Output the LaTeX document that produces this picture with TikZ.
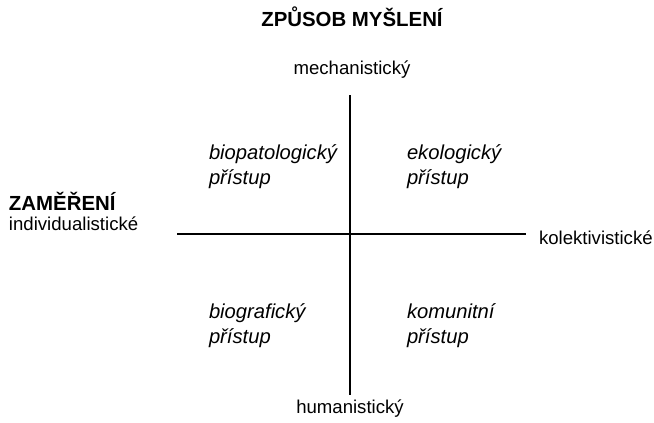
\documentclass[tikz,border=0pt]{standalone}
\usepackage{fontspec}
\setmainfont{Liberation Sans}
\begin{document}
\begin{tikzpicture}[x=1pt,y=-1pt,
  every node/.style={inner sep=0pt,outer sep=0pt,text=black},
  lbl/.style={font=\fontsize{18.6}{22}\selectfont},
  ttl/.style={font=\fontsize{20.4}{24}\selectfont\bfseries},
  quad/.style={font=\fontsize{20.2}{24.5}\selectfont\itshape,align=left},
  axis/.style={draw=black,line width=1.3pt}]
\useasboundingbox (0,0) rectangle (654,423);
% axes
\coordinate (top) at (350,95);
\coordinate (bot) at (350,395);
\coordinate (lft) at (177,234);
\coordinate (rgt) at (526,234);
\draw[axis] (top) -- (bot);
\draw[axis] (lft) -- (rgt);
% titles and labels
\node[ttl,anchor=base] (title) at (352,27) {ZPŮSOB MYŠLENÍ};
\node[lbl,anchor=base] (mech) at (352,74) {mechanistický};
\node[lbl,anchor=base] (hum) at (350,413) {humanistický};
\node[ttl,anchor=base west] (zam) at (9,210) {ZAMĚŘENÍ};
\node[lbl,anchor=base west] (ind) at (9,230) {individualistické};
\node[lbl,anchor=base west] (kol) at (539,244) {kolektivistické};
% quadrants
\node[quad,anchor=base west] (q1a) at (209,159.5) {biopatologický};
\node[quad,anchor=base west] (q1b) at (209,184) {přístup};
\node[quad,anchor=base west] (q2a) at (407,159.5) {ekologický};
\node[quad,anchor=base west] (q2b) at (407,184) {přístup};
\node[quad,anchor=base west] (q3a) at (209,318.5) {biografický};
\node[quad,anchor=base west] (q3b) at (209,343.5) {přístup};
\node[quad,anchor=base west] (q4a) at (407,318.5) {komunitní};
\node[quad,anchor=base west] (q4b) at (407,343.5) {přístup};
\end{tikzpicture}
\end{document}
